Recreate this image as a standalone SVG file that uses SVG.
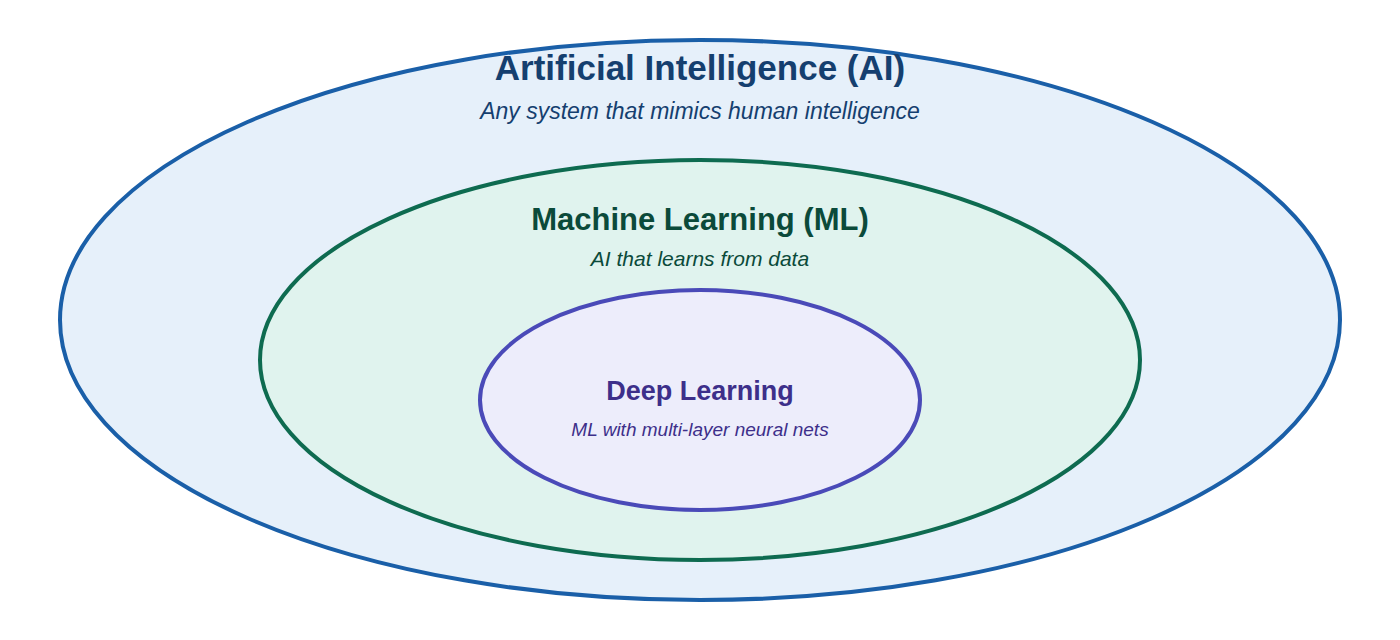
<svg xmlns="http://www.w3.org/2000/svg" width="1400" height="640" viewBox="0 0 1400 640">
<style>
text{font-family:"Liberation Sans",Arial,sans-serif;text-anchor:middle}
.t{font-weight:bold}
.s{font-style:italic}
</style>
<rect width="1400" height="640" fill="#fff"/>
<g id="ai">
<ellipse cx="700" cy="320" rx="640" ry="280" fill="#e6f0fa" stroke="#1a5fa8" stroke-width="4"/>
<text x="700" y="80" class="t" font-size="35" fill="#153f6f">Artificial Intelligence (AI)</text>
<text x="700" y="119" class="s" font-size="23" fill="#153f6f">Any system that mimics human intelligence</text>
</g>
<g id="ml">
<ellipse cx="700" cy="360" rx="440" ry="200" fill="#e0f3ee" stroke="#0e6b50" stroke-width="4"/>
<text x="700" y="230" class="t" font-size="31" fill="#0b4a3a">Machine Learning (ML)</text>
<text x="700" y="266" class="s" font-size="21" fill="#0b4a3a">AI that learns from data</text>
</g>
<g id="dl">
<ellipse cx="700" cy="400" rx="220" ry="110" fill="#ededfb" stroke="#4a4ab8" stroke-width="4"/>
<text x="700" y="400" class="t" font-size="27" fill="#3d2f8a">Deep Learning</text>
<text x="700" y="436" class="s" font-size="19" fill="#3d2f8a">ML with multi-layer neural nets</text>
</g>
<g id="connectors"/>
</svg>
